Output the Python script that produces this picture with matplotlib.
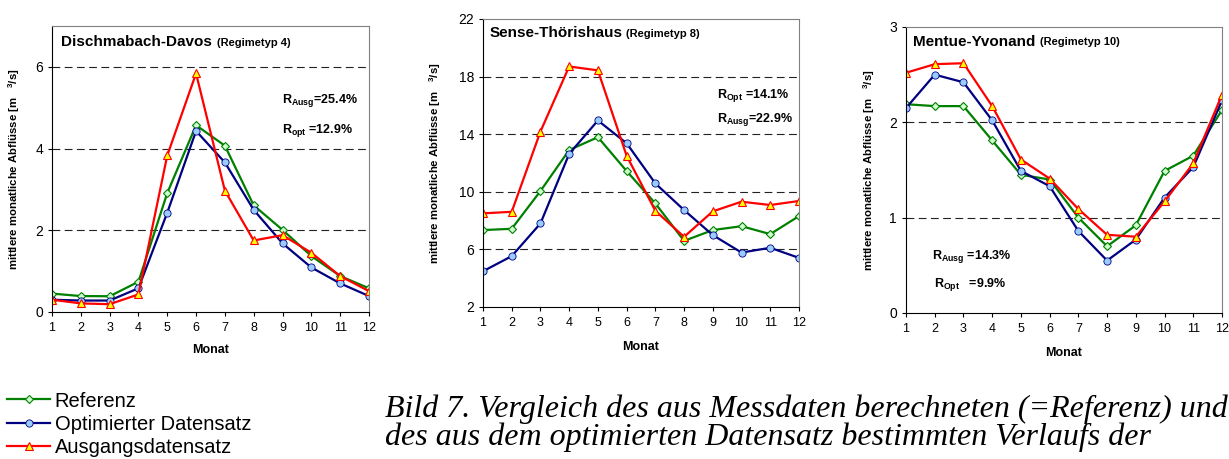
import matplotlib
matplotlib.use("Agg")
import matplotlib.pyplot as plt

plt.rcParams['font.family'] = ['Liberation Sans Narrow', 'Liberation Sans', 'DejaVu Sans']
plt.rcParams['mathtext.fontset'] = 'custom'
plt.rcParams['mathtext.rm'] = 'Liberation Sans'
plt.rcParams['mathtext.bf'] = 'Liberation Sans:bold'

monate = list(range(1, 13))

# Dischmabach-Davos (Regimetyp 4)
davos_ref = [0.45, 0.39, 0.385, 0.74, 2.91, 4.57, 4.07, 2.61, 2.01, 1.37, 0.88, 0.58]
davos_opt = [0.30, 0.28, 0.28, 0.58, 2.43, 4.43, 3.66, 2.50, 1.68, 1.09, 0.70, 0.39]
davos_ausg = [0.30, 0.21, 0.19, 0.43, 3.83, 5.84, 2.97, 1.75, 1.88, 1.45, 0.88, 0.51]

# Sense-Thoerishaus (Regimetyp 8)
sense_ref = [7.34, 7.43, 10.05, 12.9, 13.79, 11.44, 9.19, 6.59, 7.34, 7.61, 7.06, 8.31]
sense_opt = [4.48, 5.53, 7.80, 12.63, 14.95, 13.37, 10.58, 8.73, 6.99, 5.78, 6.11, 5.41]
sense_ausg = [8.50, 8.61, 14.18, 18.70, 18.43, 12.50, 8.68, 6.87, 8.64, 9.31, 9.08, 9.36]

# Mentue-Yvonand (Regimetyp 10)
mentue_ref = [2.19, 2.17, 2.17, 1.81, 1.45, 1.40, 1.00, 0.70, 0.92, 1.49, 1.65, 2.13]
mentue_opt = [2.15, 2.50, 2.42, 2.02, 1.49, 1.33, 0.86, 0.55, 0.77, 1.21, 1.53, 2.23]
mentue_ausg = [2.52, 2.61, 2.62, 2.17, 1.61, 1.41, 1.09, 0.82, 0.80, 1.17, 1.57, 2.29]

labels = ["Referenz", "Optimierter Datensatz", "Ausgangsdatensatz"]


def draw_panel(ax, ref, opt, ausg, title, regime, ylim, yticks, grid_at, r_texts):
    l1, = ax.plot(monate, ref, color='#008000', lw=1.6, marker='D', ms=4.2,
                  mfc='#ccffcc', mec='#008000', mew=0.8)
    l2, = ax.plot(monate, opt, color='#000080', lw=1.6, marker='o', ms=5.2,
                  mfc='#99ccff', mec='#000080', mew=0.6)
    l3, = ax.plot(monate, ausg, color='#ff0000', lw=1.6, marker='^', ms=6,
                  mfc='#ffff00', mec='#ff0000', mew=0.8)
    ax.set_xlim(1, 12)
    ax.set_ylim(*ylim)
    ax.set_xticks(monate)
    ax.set_yticks(yticks)
    for g in grid_at:
        ax.axhline(g, color='#222222', lw=0.8, ls=(0, (7, 4)), zorder=0)
    ax.tick_params(axis='both', direction='out', length=3, width=0.8)
    ax.tick_params(axis='x', labelsize=9, pad=4.5)
    ax.tick_params(axis='y', labelsize=10)
    for s in ['top', 'right']:
        ax.spines[s].set_color('#808080')
    for s in ['left', 'bottom']:
        ax.spines[s].set_color('black')
    ax.set_xlabel("Monat", fontsize=9, fontweight='bold')
    ax.set_ylabel(r"mittlere monatliche Abflüsse [m   $^{\mathbf{3}}$/s]", fontsize=8.2, fontweight='bold')
    t = ax.text(title[1], title[2], title[0], transform=ax.transAxes, fontsize=11,
                fontweight='bold', va='center', ha='left')
    ax.annotate(regime, xy=(1, 0), xycoords=t, xytext=(3, 1), textcoords='offset points',
                fontsize=8, fontweight='bold', va='bottom', ha='left')
    for (txt, x, y) in r_texts:
        ax.text(x, y, txt, transform=ax.transAxes, fontsize=9, fontweight='bold',
                va='center', ha='left')
    return [l1, l2, l3]


fig = plt.figure(figsize=(12.29, 4.59), dpi=100)
ax1 = fig.add_axes([0.0423, 0.3203, 0.2579, 0.6231])
ax2 = fig.add_axes([0.3930, 0.3312, 0.2571, 0.6275])
ax3 = fig.add_axes([0.7372, 0.3181, 0.2571, 0.6231])

handles = draw_panel(ax1, davos_ref, davos_opt, davos_ausg,
                     ("Dischmabach-Davos", 0.03, 0.944), "(Regimetyp 4)",
                     (0, 7), [0, 2, 4, 6], [2, 4, 6],
                     [(r"R$_{\mathbf{Ausg}}$=25.4%", 0.725, 0.74),
                      (r"R$_{\mathbf{opt}}$ =12.9%", 0.725, 0.635)])
draw_panel(ax2, sense_ref, sense_opt, sense_ausg,
           ("Sense-Thörishaus", 0.02, 0.951), "(Regimetyp 8)",
           (2, 22), [2, 6, 10, 14, 18, 22], [6, 10, 14, 18],
           [(r"R$_{\mathbf{Opt}}$ =14.1%", 0.741, 0.735),
            (r"R$_{\mathbf{Ausg}}$=22.9%", 0.741, 0.65)])
draw_panel(ax3, mentue_ref, mentue_opt, mentue_ausg,
           ("Mentue-Yvonand", 0.022, 0.948), "(Regimetyp 10)",
           (0, 3), [0, 1, 2, 3], [1, 2],
           [(r"R$_{\mathbf{Ausg}}$ =14.3%", 0.082, 0.196),
            (r"R$_{\mathbf{Opt}}$   =9.9%", 0.09, 0.101)])

ax1.yaxis.set_label_coords(-0.095, 0.5)
ax2.yaxis.set_label_coords(-0.127, 0.5)
ax3.yaxis.set_label_coords(-0.092, 0.5)
ax1.xaxis.set_label_coords(0.5, -0.112)
ax2.xaxis.set_label_coords(0.5, -0.117)
ax3.xaxis.set_label_coords(0.5, -0.118)

fig.legend(handles, labels, loc='upper left', bbox_to_anchor=(0.006, 0.147),
           frameon=False, handlelength=2.1, handletextpad=0.25,
           labelspacing=0.2, borderaxespad=0, borderpad=0,
           prop={'size': 14.5})

fig.text(385 / 1229, 1 - 417 / 459, "Bild 7. Vergleich des aus Messdaten berechneten (=Referenz) und",
         family=['Liberation Serif', 'DejaVu Serif'], style='italic', fontsize=23, va='baseline')
fig.text(385 / 1229, 1 - 445 / 459, "des aus dem optimierten Datensatz bestimmten Verlaufs der",
         family=['Liberation Serif', 'DejaVu Serif'], style='italic', fontsize=23, va='baseline')

fig.savefig("out.png", dpi=100)
